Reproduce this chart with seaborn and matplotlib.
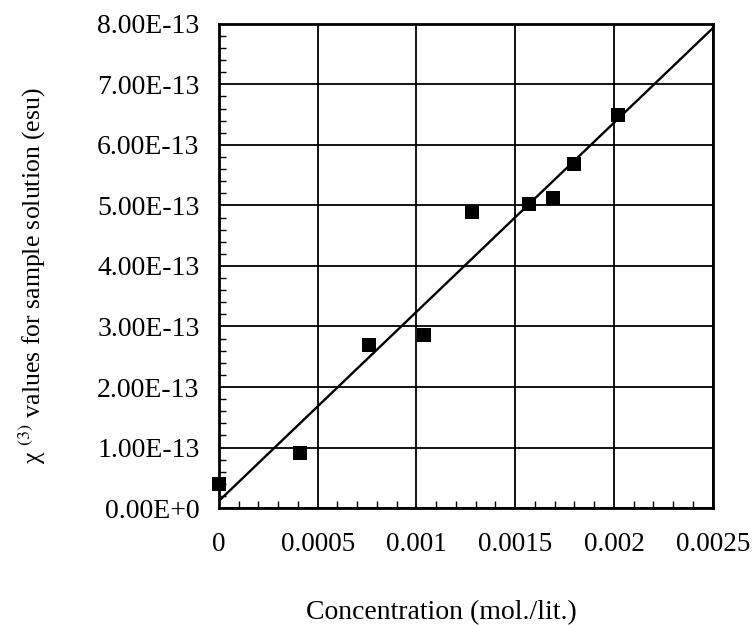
import numpy as np
import pandas as pd
import seaborn as sns
import matplotlib.pyplot as plt
from matplotlib.ticker import FixedLocator, AutoMinorLocator, FuncFormatter

# values
concentration = [0.0, 0.00041, 0.00076, 0.00104, 0.00128, 0.00157, 0.00169, 0.00180, 0.00202]
chi3 = [0.40e-13, 0.91e-13, 2.69e-13, 2.86e-13, 4.89e-13, 5.02e-13, 5.12e-13, 5.69e-13, 6.50e-13]

x_ticks = [0, 0.0005, 0.001, 0.0015, 0.002, 0.0025]
x_tick_labels = ["0", "0.0005", "0.001", "0.0015", "0.002", "0.0025"]
y_ticks = [0, 1e-13, 2e-13, 3e-13, 4e-13, 5e-13, 6e-13, 7e-13, 8e-13]
y_tick_labels = ["0.00E+0", "1.00E-13", "2.00E-13", "3.00E-13", "4.00E-13",
                 "5.00E-13", "6.00E-13", "7.00E-13", "8.00E-13"]

df = pd.DataFrame({"conc": concentration, "chi3": chi3})

sns.set_theme(style="white")
plt.rcParams['font.family'] = ['Liberation Serif', 'DejaVu Serif']
plt.rcParams['mathtext.fontset'] = 'stix'

fig = plt.figure(figsize=(7.55, 6.25), dpi=100)
ax = fig.add_axes([0.290, 0.187, 0.654, 0.775])

ax.set_xlim(0, 0.0025)
ax.set_ylim(0, 8e-13)

# linear fit through the points, extended across the whole axis
sns.regplot(
    data=df, x="conc", y="chi3", ci=None, truncate=False, ax=ax,
    marker="s",
    scatter_kws={"s": 95, "color": "black", "alpha": 1, "clip_on": False,
                 "zorder": 5, "linewidths": 0},
    line_kws={"color": "black", "linewidth": 1.7, "zorder": 4},
)

ax.set_xlim(0, 0.0025)
ax.set_ylim(0, 8e-13)

ax.set_xticks(x_ticks, x_tick_labels)
ax.set_yticks(y_ticks, y_tick_labels)
ax.xaxis.set_minor_locator(AutoMinorLocator(5))
ax.yaxis.set_minor_locator(AutoMinorLocator(5))

ax.grid(True, which="major", color="black", linewidth=1.3)
for s in ax.spines.values():
    s.set_color("black")
    s.set_linewidth(2.0)

ax.tick_params(which="major", length=0, colors="black")
ax.tick_params(axis="y", which="major", pad=14, labelsize=20)
ax.tick_params(axis="x", which="major", pad=17, labelsize=19.5)
ax.tick_params(which="minor", direction="in", length=5, width=1.0, color="black",
               bottom=True, left=True)

ax.set_xlabel("Concentration (mol./lit.)", fontsize=20, color="black")
ax.set_ylabel("χ $^{(3)}$ values for sample solution (esu)", fontsize=18.5, color="black")
ax.xaxis.set_label_coords(0.451, -0.19)
ax.yaxis.set_label_coords(-0.346, 0.479)

fig.savefig("out.png", dpi=100)
